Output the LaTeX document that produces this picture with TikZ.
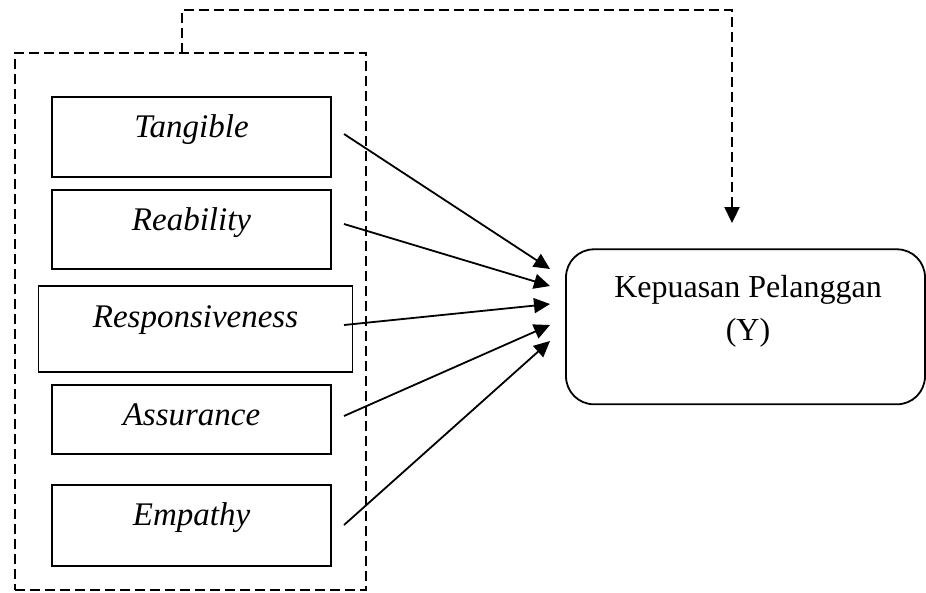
\documentclass[tikz,border=0pt]{standalone}
\usepackage{fontspec}
\setmainfont{Liberation Serif}
\usetikzlibrary{arrows.meta}
\begin{document}
\begin{tikzpicture}[x=1pt,y=-1pt,
  every node/.style={font=\fontsize{32}{43}\selectfont},
  dimbox/.style={draw, line width=1.8pt, inner xsep=0pt, inner ysep=0pt, font=\fontsize{33}{43}\selectfont\itshape},
  grpbox/.style={draw, line width=2.2pt, dash pattern=on 10pt off 5pt, inner sep=0pt},
  ybox/.style={draw, line width=1.8pt, rounded corners=28pt, inner sep=0pt},
  arr/.style={line width=1.8pt, -{Triangle[length=16pt,width=15pt]}},
  dasharr/.style={line width=2.2pt, dash pattern=on 10pt off 5pt, -{Triangle[length=16pt,width=15pt]}}
]
\useasboundingbox (0,0) rectangle (926,592);

% dashed group box
\node[grpbox, minimum width=351pt, minimum height=537pt] (grp) at (190.5,321.5) {};

% dimension boxes (text height = baseline-top, text depth = bottom-baseline)
\node[dimbox, minimum width=279pt, text height=40pt, text depth=40pt, anchor=base] (tan) at (191.5,137) {Tangible};
\node[dimbox, minimum width=279pt, text height=40pt, text depth=39pt, anchor=base] (rea) at (191.5,230) {Reability};
\node[dimbox, minimum width=314pt, text height=41pt, text depth=45pt, anchor=base] (res) at (195.5,327) {Responsiveness};
\node[dimbox, minimum width=279pt, text height=40pt, text depth=29pt, anchor=base] (ass) at (191.5,425) {Assurance};
\node[dimbox, minimum width=279pt, text height=40pt, text depth=41pt, anchor=base] (emp) at (191.5,525) {Empathy};

% dependent variable box
\node[ybox, minimum width=359pt, minimum height=155pt] (kep) at (745.5,326.8) {};
\node[anchor=base] (kept) at (748,297) {Kepuasan Pelanggan};
\node[anchor=base] (ky) at (748,340) {(Y)};

% arrow start and end points
\coordinate (s1) at (344,134);
\coordinate (s2) at (344,224);
\coordinate (s3) at (344,325);
\coordinate (s4) at (344,416);
\coordinate (s5) at (344,525);
\coordinate (e1) at (550,269);
\coordinate (e2) at (550,286);
\coordinate (e3) at (550,304);
\coordinate (e4) at (550,325);
\coordinate (e5) at (550,341);

\draw[arr] (s1) -- (e1);
\draw[arr] (s2) -- (e2);
\draw[arr] (s3) -- (e3);
\draw[arr] (s4) -- (e4);
\draw[arr] (s5) -- (e5);

% feedback dashed connector
\coordinate (f0) at (182,53);
\coordinate (f1) at (182,10);
\coordinate (f2) at (732,10);
\coordinate (f3) at (732,223);
\draw[dasharr] (f0) -- (f1) -- (f2) -- (f3);
\end{tikzpicture}
\end{document}
